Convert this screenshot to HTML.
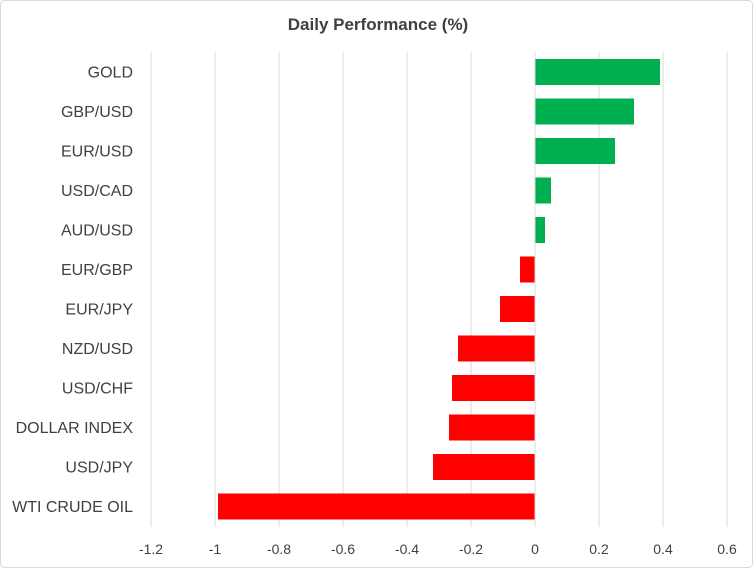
<!DOCTYPE html>
<html><head><style>
body{margin:0;background:#fff;}
svg{display:block;font-family:"Liberation Sans",sans-serif;}
</style></head><body>
<svg width="753" height="568" viewBox="0 0 753 568" xmlns="http://www.w3.org/2000/svg">
<rect x="0.5" y="0.5" width="752" height="567" rx="4" fill="#fff" stroke="#d9d9d9"/>
<text x="378" y="30" text-anchor="middle" font-size="17" font-weight="bold" fill="#404040">Daily Performance  (%)</text>
<g stroke="#d9d9d9" stroke-width="1">
<line x1="151" y1="52" x2="151" y2="527"/><line x1="215" y1="52" x2="215" y2="527"/>
<line x1="279" y1="52" x2="279" y2="527"/><line x1="343" y1="52" x2="343" y2="527"/>
<line x1="407" y1="52" x2="407" y2="527"/><line x1="471" y1="52" x2="471" y2="527"/>
<line x1="599" y1="52" x2="599" y2="527"/><line x1="663" y1="52" x2="663" y2="527"/>
<line x1="727" y1="52" x2="727" y2="527"/>
</g>
<g fill="#00B050">
<rect x="535" y="59" width="125" height="26"/>
<rect x="535" y="98.5" width="99" height="26"/>
<rect x="535" y="138" width="80" height="26"/>
<rect x="535" y="177.5" width="16" height="26"/>
<rect x="535" y="217" width="10" height="26"/>
</g>
<g fill="#FF0000">
<rect x="520" y="256.5" width="15" height="26"/>
<rect x="500" y="296" width="35" height="26"/>
<rect x="458" y="335.5" width="77" height="26"/>
<rect x="452" y="375" width="83" height="26"/>
<rect x="449" y="414.5" width="86" height="26"/>
<rect x="433" y="454" width="102" height="26"/>
<rect x="218" y="493.5" width="317" height="26"/>
</g>
<line x1="535" y1="52" x2="535" y2="527" stroke="#d9d9d9"/>
<g font-size="16" fill="#404040" text-anchor="end">
<text x="133" y="77.5">GOLD</text>
<text x="133" y="117">GBP/USD</text>
<text x="133" y="156.5">EUR/USD</text>
<text x="133" y="196">USD/CAD</text>
<text x="133" y="235.5">AUD/USD</text>
<text x="133" y="275">EUR/GBP</text>
<text x="133" y="314.5">EUR/JPY</text>
<text x="133" y="354">NZD/USD</text>
<text x="133" y="393.5">USD/CHF</text>
<text x="133" y="433">DOLLAR INDEX</text>
<text x="133" y="472.5">USD/JPY</text>
<text x="133" y="512">WTI CRUDE OIL</text>
</g>
<g font-size="14" fill="#404040" text-anchor="middle">
<text x="151" y="554">-1.2</text><text x="215" y="554">-1</text>
<text x="279" y="554">-0.8</text><text x="343" y="554">-0.6</text>
<text x="407" y="554">-0.4</text><text x="471" y="554">-0.2</text>
<text x="535" y="554">0</text><text x="599" y="554">0.2</text>
<text x="663" y="554">0.4</text><text x="727" y="554">0.6</text>
</g>
</svg>
</body></html>
